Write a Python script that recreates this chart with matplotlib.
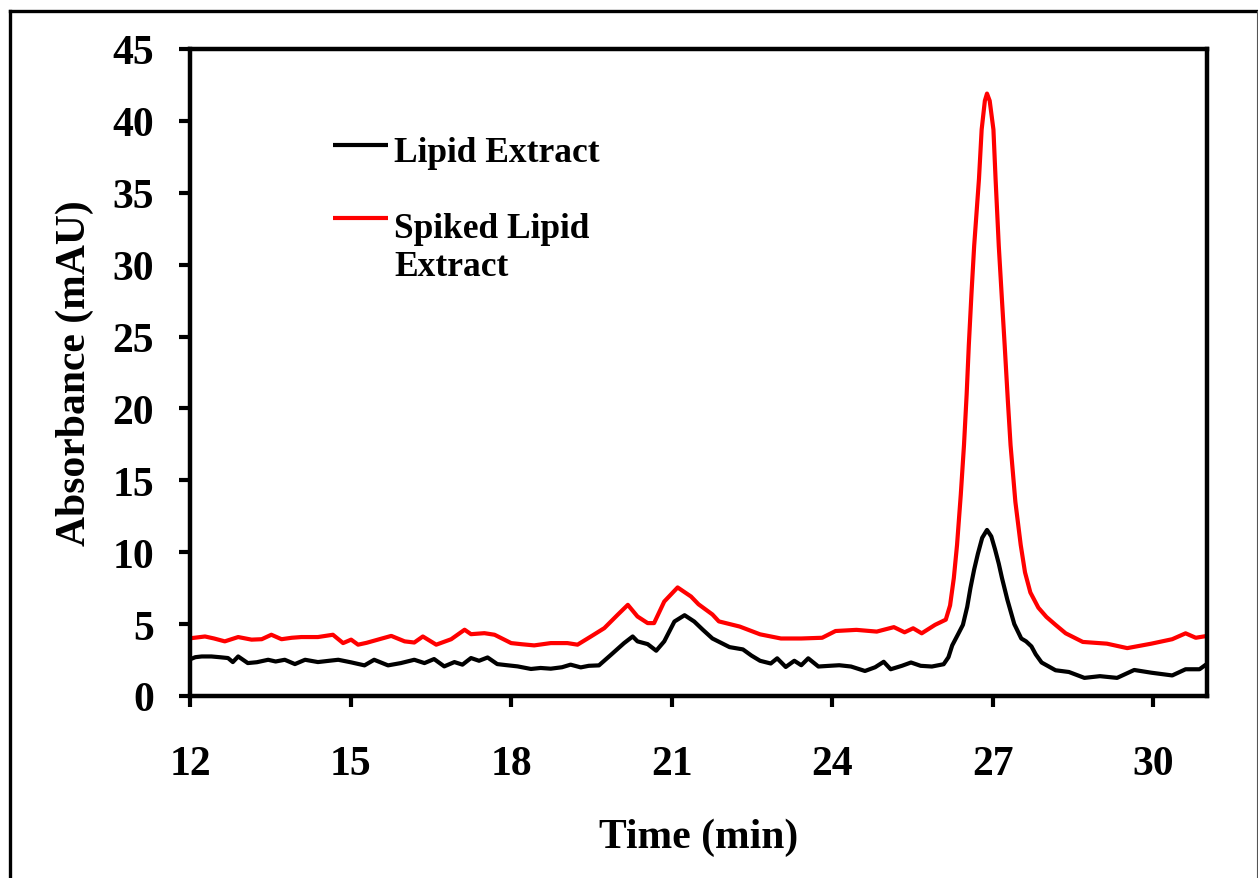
import matplotlib
matplotlib.use("Agg")
import matplotlib.pyplot as plt
from matplotlib.lines import Line2D

plt.rcParams['font.family'] = ['Liberation Serif', 'DejaVu Serif']
plt.rcParams['font.weight'] = 'bold'

# ---------------- data ----------------
time_lipid = [12.0, 12.1, 12.22, 12.40, 12.55, 12.71, 12.80, 12.90, 13.08, 13.25, 13.46, 13.6, 13.77,
              13.96, 14.15, 14.39, 14.6, 14.77, 15.01, 15.26, 15.44, 15.70, 15.94, 16.19, 16.38,
              16.56, 16.75, 16.94, 17.09, 17.25, 17.40, 17.56, 17.74, 17.9, 18.12, 18.37, 18.55,
              18.74, 18.95, 19.11, 19.30, 19.45, 19.64, 19.86, 20.11, 20.27, 20.36, 20.55, 20.71,
              20.86, 21.05, 21.24, 21.42, 21.58, 21.76, 22.08, 22.33, 22.49, 22.65, 22.85, 22.97,
              23.13, 23.29, 23.42, 23.55, 23.74, 23.95, 24.13, 24.35, 24.61, 24.8, 24.96, 25.09,
              25.3, 25.47, 25.65, 25.86, 26.08, 26.17, 26.24, 26.35, 26.44, 26.52, 26.58, 26.65,
              26.72, 26.8, 26.89, 26.97, 27.04, 27.11, 27.17, 27.27, 27.4, 27.53, 27.62, 27.72,
              27.8, 27.91, 28.17, 28.42, 28.71, 29.0, 29.32, 29.64, 29.96, 30.35, 30.6, 30.86, 31.02]
abs_lipid = [2.55, 2.7, 2.75, 2.75, 2.7, 2.64, 2.36, 2.75, 2.29, 2.35, 2.52, 2.4, 2.52,
             2.22, 2.52, 2.36, 2.45, 2.52, 2.34, 2.13, 2.52, 2.13, 2.29, 2.52, 2.29,
             2.57, 2.06, 2.36, 2.18, 2.64, 2.45, 2.68, 2.22, 2.15, 2.06, 1.88, 1.95,
             1.90, 2.0, 2.18, 1.99, 2.1, 2.13, 2.85, 3.68, 4.14, 3.80, 3.61, 3.15,
             3.80, 5.18, 5.62, 5.18, 4.61, 4.0, 3.4, 3.24, 2.81, 2.45, 2.26, 2.62,
             2.02, 2.45, 2.14, 2.62, 2.05, 2.1, 2.14, 2.05, 1.74, 2.0, 2.38, 1.86,
             2.1, 2.33, 2.1, 2.05, 2.21, 2.7, 3.52, 4.3, 4.95, 6.2, 7.5, 8.8,
             9.9, 11.0, 11.55, 11.1, 10.2, 9.2, 8.2, 6.7, 5.0, 4.0, 3.8, 3.45,
             2.9, 2.33, 1.79, 1.67, 1.26, 1.38, 1.26, 1.81, 1.62, 1.43, 1.86, 1.86, 2.29]

time_spiked = [12.04, 12.28, 12.45, 12.65, 12.90, 13.15, 13.34, 13.52, 13.71, 13.9, 14.08, 14.39,
               14.67, 14.86, 15.01, 15.14, 15.3, 15.51, 15.76, 16.01, 16.19, 16.35, 16.60, 16.88,
               17.13, 17.25, 17.50, 17.69, 18.00, 18.2, 18.43, 18.74, 19.05, 19.24, 19.49, 19.74,
               19.99, 20.18, 20.36, 20.55, 20.67, 20.86, 21.11, 21.36, 21.50, 21.76, 21.88, 22.27,
               22.65, 23.04, 23.42, 23.81, 24.06, 24.45, 24.83, 25.15, 25.35, 25.51, 25.67, 25.92,
               26.12, 26.2, 26.27, 26.33, 26.40, 26.46, 26.51, 26.55, 26.60, 26.65, 26.74, 26.79,
               26.85, 26.89, 26.94, 27.01, 27.05, 27.11, 27.17, 27.22, 27.28, 27.33, 27.42, 27.52,
               27.6, 27.7, 27.85, 28.0, 28.17, 28.36, 28.68, 29.13, 29.51, 29.96, 30.35, 30.6,
               30.79, 31.02]
abs_spiked = [4.03, 4.14, 4.0, 3.80, 4.10, 3.92, 3.95, 4.26, 3.95, 4.05, 4.10, 4.10,
              4.26, 3.68, 3.92, 3.57, 3.7, 3.92, 4.18, 3.80, 3.72, 4.14, 3.57, 3.95,
              4.61, 4.30, 4.37, 4.26, 3.68, 3.6, 3.52, 3.68, 3.68, 3.57, 4.14, 4.72,
              5.65, 6.34, 5.53, 5.07, 5.07, 6.57, 7.55, 6.92, 6.38, 5.67, 5.19, 4.83,
              4.29, 4.0, 4.0, 4.05, 4.52, 4.6, 4.48, 4.79, 4.43, 4.71, 4.36, 4.95,
              5.31, 6.3, 8.2, 10.5, 14.0, 17.45, 21.0, 24.4, 28.0, 31.3, 35.97, 39.4,
              41.4, 41.9, 41.4, 39.4, 35.97, 31.3, 27.5, 24.4, 20.5, 17.45, 13.5, 10.5,
              8.6, 7.2, 6.14, 5.5, 4.95, 4.36, 3.76, 3.64, 3.33, 3.64, 3.95, 4.36,
              4.05, 4.19]

series_labels = ["Lipid Extract", "Spiked Lipid\nExtract"]
series_colors = ["#000000", "#FF0000"]
x_ticks = [12, 15, 18, 21, 24, 27, 30]
y_ticks = [0, 5, 10, 15, 20, 25, 30, 35, 40, 45]
x_label = "Time (min)"
y_label = "Absorbance (mAU)"

# ---------------- figure ----------------
W, H = 1258, 879
fig = plt.figure(figsize=(W / 100, H / 100), dpi=100)
ax = fig.add_axes([190 / W, (H - 697) / H, (1207 - 190) / W, (697 - 50) / H])

ax.plot(time_lipid, abs_lipid, color=series_colors[0], lw=3.0, solid_joinstyle='round')
ax.plot(time_spiked, abs_spiked, color=series_colors[1], lw=3.0, solid_joinstyle='round')

ax.set_xlim(12, 31)
ax.set_ylim(0, 45)
ax.set_xticks(x_ticks)
ax.set_yticks(y_ticks)
for s in ax.spines.values():
    s.set_linewidth(3.2)
ax.tick_params(axis='both', direction='out', length=8, width=3.0, labelsize=30)
ax.tick_params(axis='x', pad=27)
ax.tick_params(axis='y', pad=18)
for lab in ax.get_xticklabels() + ax.get_yticklabels():
    lab.set_fontweight('bold')

ax.set_xlabel(x_label, fontsize=30, fontweight='bold', labelpad=25)
ax.set_ylabel(y_label, fontsize=30, fontweight='bold', labelpad=13)

# manual legend (text baseline of the last line of each label)
handle_y = [0.8516, 0.7388]
text_base = [0.8264, 0.6507]
for lab, col, hy, ty in zip(series_labels, series_colors, handle_y, text_base):
    ax.plot([0.1406, 0.1947], [hy, hy], color=col, lw=3.0, transform=ax.transAxes,
            solid_capstyle='butt')
    ax.text(0.2006, ty, lab, transform=ax.transAxes, fontsize=25.5, fontweight='bold',
            va='baseline', ha='left', linespacing=1.2)

# outer border of the picture
fig.add_artist(Line2D([10 / W, 10 / W], [0, 1 - 11.5 / H], transform=fig.transFigure,
                      color='black', lw=2.4))
fig.add_artist(Line2D([10 / W, 1256.5 / W], [1 - 11.5 / H, 1 - 11.5 / H],
                      transform=fig.transFigure, color='black', lw=2.4))
fig.add_artist(Line2D([1256.5 / W, 1256.5 / W], [0, 1 - 11.5 / H], transform=fig.transFigure,
                      color='#555555', lw=0.8))

fig.savefig("out.png", dpi=100)
